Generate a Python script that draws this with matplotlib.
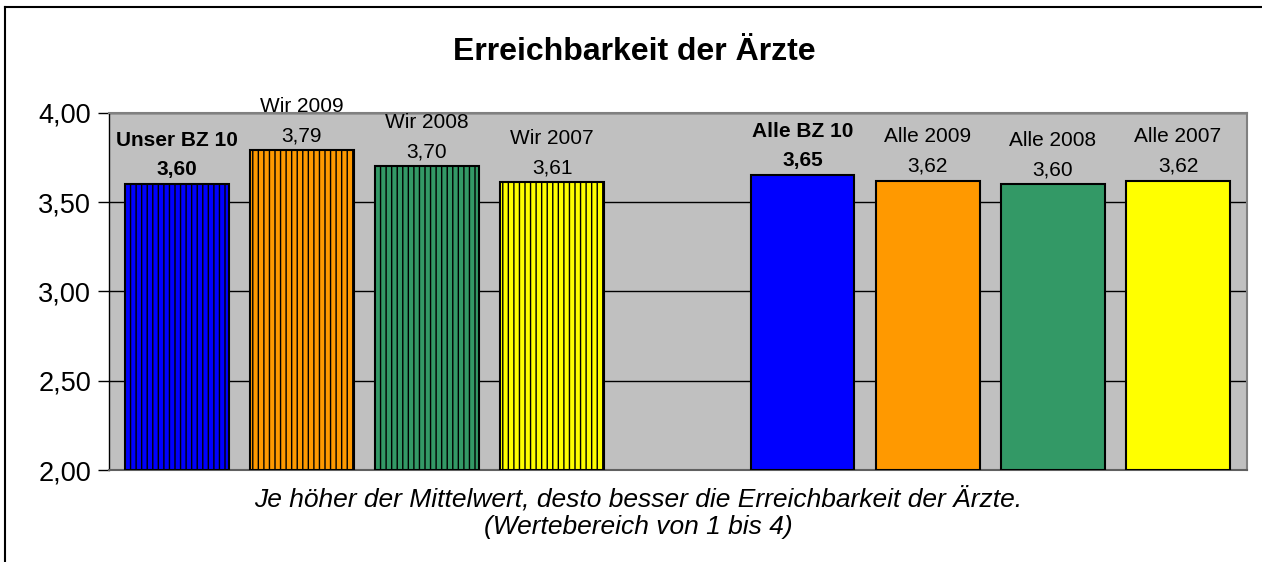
import matplotlib.pyplot as plt
import matplotlib.lines as mlines

# Chart data
names = ["Unser BZ 10", "Wir 2009", "Wir 2008", "Wir 2007", "",
         "Alle BZ 10", "Alle 2009", "Alle 2008", "Alle 2007"]
values = [3.60, 3.79, 3.70, 3.61, None, 3.65, 3.62, 3.60, 3.62]
colors = ["#0000FF", "#FF9900", "#339966", "#FFFF00", None,
          "#0000FF", "#FF9900", "#339966", "#FFFF00"]
hatched = [True, True, True, True, False, False, False, False, False]
bold = [True, False, False, False, False, True, False, False, False]
yticks = [2.0, 2.5, 3.0, 3.5, 4.0]

plt.rcParams['font.family'] = ['Liberation Sans', 'DejaVu Sans']
plt.rcParams['hatch.linewidth'] = 1.0

fig = plt.figure(figsize=(12.62, 5.62), dpi=100)
ax = fig.add_axes([0.0864, 0.1637, 0.9016, 0.6355])
ax.set_facecolor("#C0C0C0")

for i, v in enumerate(values):
    if v is None:
        continue
    ax.bar(i, v - 2.0, bottom=2.0, width=0.83, color=colors[i],
           edgecolor="black", linewidth=1.5,
           hatch="|||" if hatched[i] else None, zorder=3)
    weight = "bold" if bold[i] else "normal"
    label = "%.2f" % v
    # value label just above the bar, series name above that
    ax.annotate(label.replace(".", ","), (i, v), xytext=(0, 10.5),
                textcoords="offset points", ha="center", va="center",
                fontsize=15, fontweight=weight, zorder=4)
    ax.annotate(names[i], (i, v), xytext=(0, 31.5),
                textcoords="offset points", ha="center", va="center",
                fontsize=15, fontweight=weight, zorder=4,
                annotation_clip=False)

ax.set_xlim(-0.54, 8.55)
ax.set_ylim(2.0, 4.0)
ax.set_yticks(yticks)
ax.set_yticklabels([("%.2f" % t).replace(".", ",") for t in yticks], fontsize=19.5)
ax.set_xticks([])
ax.yaxis.grid(True, color="black", linewidth=1, zorder=1)
ax.set_axisbelow(True)
ax.tick_params(axis="y", length=8, width=1, direction="out", pad=5)

for side in ["top", "right"]:
    ax.spines[side].set_color("#808080")
    ax.spines[side].set_linewidth(1.5)
ax.spines["bottom"].set_color("#606060")
ax.spines["bottom"].set_linewidth(1.5)
ax.spines["left"].set_color("black")
ax.spines["left"].set_linewidth(1)

fig.text(0.503, 0.907, "Erreichbarkeit der Ärzte", ha="center", va="center",
         fontsize=23, fontweight="bold")
fig.text(0.506, 0.112, "Je höher der Mittelwert, desto besser die Erreichbarkeit der Ärzte.",
         ha="center", va="center", fontsize=19, style="italic")
fig.text(0.506, 0.062, "(Wertebereich von 1 bis 4)",
         ha="center", va="center", fontsize=19, style="italic")

# outer chart frame (top and left edges visible)
fig.add_artist(mlines.Line2D([0.0043, 1.0], [0.9875, 0.9875], color="black",
                             linewidth=1.5, transform=fig.transFigure))
fig.add_artist(mlines.Line2D([0.0043, 0.0043], [0.0, 0.9875], color="black",
                             linewidth=1.5, transform=fig.transFigure))

fig.savefig("out.png", dpi=100, facecolor="white")
